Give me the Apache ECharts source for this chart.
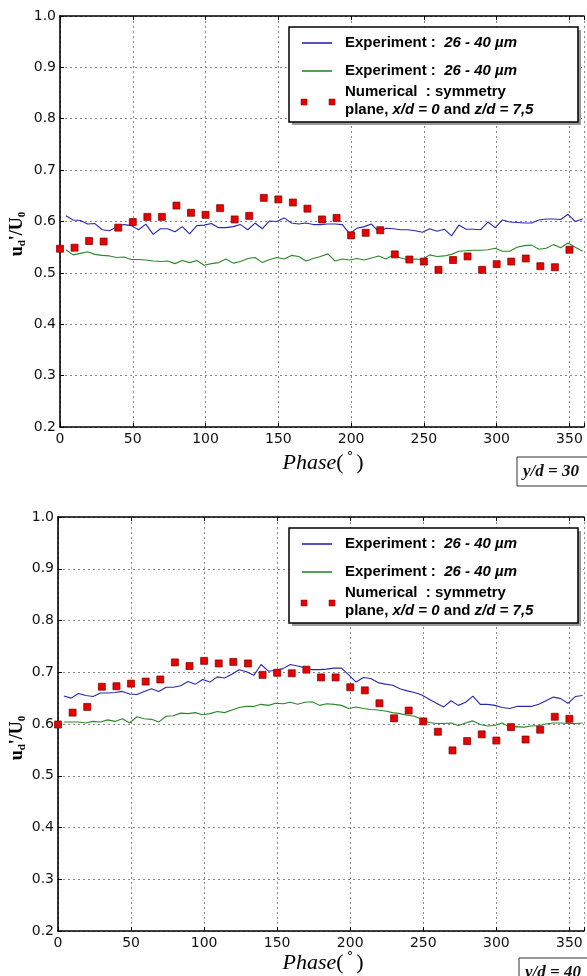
<!DOCTYPE html>
<html>
<head>
<meta charset="utf-8">
<script src="https://cdn.jsdelivr.net/npm/echarts@6/dist/echarts.min.js"></script>
<style>
    html, body { margin: 0; padding: 0; background: #fff; }
    #chart { width: 587px; height: 976px; }
</style>
</head>
<body>
<div id="chart"></div>
<script>
    // phase (deg) of the measured curves
    const expPhase = [4,9,14,19,24,29,34,39,44,49,54,59,64,69,74,79,84,89,94,99,104,109,114,119,124,129,134,139,144,149,
        154,159,164,169,174,179,184,189,194,199,204,209,214,219,224,229,234,239,244,249,254,259,264,269,274,279,284,289,294,299,
        304,309,314,319,324,329,334,339,344,349,354,359];
    // phase (deg) of the numerical points
    const numPhase = [0,10,20,30,40,50,60,70,80,90,100,110,120,130,140,150,160,170,180,190,200,210,220,230,240,250,260,270,280,290,300,310,320,330,340,350];

    // y/d = 30
    const blue30 = [0.611,0.603,0.602,0.595,0.596,0.584,0.582,0.590,0.594,0.592,
        0.584,0.595,0.575,0.586,0.586,0.580,0.590,0.576,0.592,0.593,
        0.596,0.588,0.588,0.590,0.594,0.584,0.597,0.586,0.601,0.600,
        0.607,0.597,0.595,0.597,0.594,0.594,0.595,0.595,0.594,0.576,
        0.587,0.590,0.595,0.580,0.587,0.586,0.584,0.584,0.582,0.579,
        0.586,0.581,0.585,0.572,0.593,0.585,0.585,0.584,0.599,0.588,
        0.603,0.599,0.598,0.597,0.597,0.603,0.605,0.605,0.604,0.614,
        0.600,0.605];
    const green30 = [0.545,0.535,0.538,0.541,0.536,0.534,0.533,0.530,0.531,0.526,
        0.526,0.525,0.523,0.522,0.523,0.518,0.524,0.520,0.524,0.515,
        0.518,0.520,0.527,0.519,0.522,0.528,0.530,0.520,0.526,0.530,
        0.527,0.534,0.532,0.523,0.528,0.532,0.537,0.523,0.527,0.525,
        0.528,0.525,0.529,0.533,0.527,0.535,0.529,0.526,0.527,0.526,
        0.535,0.532,0.533,0.536,0.542,0.543,0.544,0.544,0.545,0.548,
        0.542,0.542,0.550,0.553,0.554,0.546,0.548,0.555,0.549,0.558,
        0.550,0.542];
    const num30 = [0.547,0.549,0.562,0.561,0.588,0.599,0.609,0.609,0.631,0.617,
        0.613,0.626,0.604,0.611,0.646,0.643,0.637,0.625,0.604,0.607,
        0.573,0.578,0.583,0.536,0.526,0.522,0.506,0.525,0.532,0.506,
        0.517,0.522,0.528,0.513,0.511,0.545];

    // y/d = 40
    const blue40 = [0.654,0.650,0.659,0.655,0.653,0.660,0.660,0.661,0.663,0.658,
        0.657,0.663,0.668,0.663,0.671,0.671,0.674,0.682,0.677,0.686,
        0.681,0.691,0.689,0.696,0.705,0.701,0.694,0.715,0.702,0.704,
        0.707,0.715,0.712,0.709,0.705,0.705,0.706,0.708,0.708,0.695,
        0.681,0.690,0.688,0.680,0.677,0.675,0.668,0.664,0.661,0.656,
        0.648,0.640,0.633,0.645,0.636,0.642,0.654,0.638,0.638,0.636,
        0.632,0.630,0.634,0.634,0.634,0.638,0.645,0.652,0.649,0.640,
        0.653,0.655];
    const green40 = [0.604,0.604,0.604,0.602,0.605,0.604,0.608,0.605,0.610,0.602,
        0.614,0.610,0.609,0.604,0.615,0.616,0.621,0.620,0.622,0.618,
        0.620,0.624,0.622,0.627,0.632,0.634,0.634,0.638,0.636,0.640,
        0.639,0.642,0.638,0.642,0.643,0.636,0.639,0.638,0.636,0.630,
        0.633,0.630,0.628,0.627,0.625,0.622,0.620,0.617,0.615,0.609,
        0.603,0.601,0.601,0.602,0.597,0.602,0.606,0.599,0.596,0.597,
        0.602,0.594,0.595,0.594,0.596,0.597,0.600,0.602,0.602,0.601,
        0.601,0.602];
    const num40 = [0.599,0.622,0.633,0.672,0.673,0.678,0.682,0.686,0.719,0.712,
        0.722,0.717,0.720,0.717,0.695,0.699,0.698,0.705,0.690,0.690,
        0.671,0.665,0.640,0.611,0.626,0.605,0.585,0.549,0.567,0.580,
        0.568,0.594,0.570,0.589,0.614,0.610];

    const yTicks = ['0.2','0.3','0.4','0.5','0.6','0.7','0.8','0.9','1.0'];
    const panelLabels = ['y/d = 30', 'y/d = 40'];
    const legendText = ['Experiment :  ', '26 - 40 µm'];

    const BLUE = '#2828b0';
    const GREEN = '#2a882a';
    const tickFont = { fontFamily: 'DejaVu Sans', fontSize: 14, color: '#111' };

    function pair(xs, ys) {
        return xs.map((x, i) => [x, ys[i]]);
    }

    function xAxisCfg(grid, top) {
        return {
            type: 'value', gridIndex: grid, min: 0, max: 360, interval: 50,
            position: top ? 'top' : 'bottom',
            axisLine: { show: true, lineStyle: { color: '#000', width: 1.6 } },
            axisTick: { show: true, inside: true, length: 4, lineStyle: { color: '#000' } },
            axisLabel: top ? { show: false } : Object.assign({
                margin: 5,
                formatter: v => (v % 50 === 0 ? String(v) : '')
            }, tickFont),
            splitLine: { show: !top, lineStyle: { color: '#888', type: [2, 3], width: 1 } }
        };
    }

    function yAxisCfg(grid) {
        return {
            type: 'value', gridIndex: grid, min: 0.2, max: 1.0, interval: 0.1,
            axisLine: { show: true, lineStyle: { color: '#000', width: 1.6 } },
            axisTick: { show: true, inside: true, length: 4, lineStyle: { color: '#000' } },
            axisLabel: Object.assign({ margin: 4, formatter: v => v.toFixed(1) }, tickFont),
            splitLine: { show: true, lineStyle: { color: '#888', type: [2, 3], width: 1 } }
        };
    }

    function lineSeries(grid, ys, color) {
        return {
            type: 'line', xAxisIndex: grid * 2, yAxisIndex: grid,
            data: pair(expPhase, ys), showSymbol: false, symbol: 'none',
            lineStyle: { color: color, width: 1.1 }, z: 3, silent: true
        };
    }

    function scatterSeries(grid, ys) {
        return {
            type: 'scatter', xAxisIndex: grid * 2, yAxisIndex: grid,
            data: pair(numPhase, ys), symbol: 'rect', symbolSize: 7,
            itemStyle: { color: '#e60000', borderColor: '#7a0000', borderWidth: 0.7, opacity: 1 },
            z: 5, silent: true
        };
    }

    // legend box, drawn by hand so the 2-line entry matches
    function legendGroup(dy) {
        const L = 289, T = 27 + dy;
        const fs = 15;
        const rich = {
            b: { fontFamily: 'Liberation Sans', fontSize: fs, fontWeight: 'bold', color: '#111' },
            i: { fontFamily: 'Liberation Sans', fontSize: fs, fontWeight: 'bold', fontStyle: 'italic', color: '#111' }
        };
        return [
            { type: 'rect', shape: { x: L + 3, y: T + 3, width: 289, height: 95 }, style: { fill: '#9a9a9a' }, z: 10 },
            { type: 'rect', shape: { x: L, y: T, width: 289, height: 95 }, style: { fill: '#fff', stroke: '#000', lineWidth: 1.5 }, z: 11 },
            { type: 'line', shape: { x1: 302, y1: T + 16, x2: 332, y2: T + 16 }, style: { stroke: BLUE, lineWidth: 1.6 }, z: 12 },
            { type: 'line', shape: { x1: 302, y1: T + 44, x2: 332, y2: T + 44 }, style: { stroke: GREEN, lineWidth: 1.6 }, z: 12 },
            { type: 'rect', shape: { x: 301, y: T + 72, width: 6, height: 6 }, style: { fill: '#e60000', stroke: '#7a0000', lineWidth: 0.5 }, z: 12 },
            { type: 'rect', shape: { x: 329, y: T + 72, width: 6, height: 6 }, style: { fill: '#e60000', stroke: '#7a0000', lineWidth: 0.5 }, z: 12 },
            { type: 'text', x: 345, y: T + 16, z: 12, style: { text: '{b|' + legendText[0] + '}{i|' + legendText[1] + '}', rich: rich, verticalAlign: 'middle' } },
            { type: 'text', x: 345, y: T + 44, z: 12, style: { text: '{b|' + legendText[0] + '}{i|' + legendText[1] + '}', rich: rich, verticalAlign: 'middle' } },
            { type: 'text', x: 345, y: T + 65, z: 12, style: { text: '{b|Numerical  : symmetry}', rich: rich, verticalAlign: 'middle' } },
            { type: 'text', x: 345, y: T + 83, z: 12, style: { text: '{b|plane, }{i|x/d = 0}{b| and }{i|z/d = 7,5}', rich: rich, verticalAlign: 'middle' } }
        ];
    }

    function axisTitles(phaseY, ylabY, boxX, boxY, label) {
        return [
            {
                type: 'text', x: 17, y: ylabY, rotation: Math.PI / 2, z: 12,
                style: {
                    text: "{b|u}{s|d}{b|'/U}{s|0}", align: 'center', verticalAlign: 'middle',
                    rich: {
                        b: { fontFamily: 'Liberation Serif', fontSize: 18, fontWeight: 'bold', color: '#111', lineHeight: 22 },
                        s: { fontFamily: 'Liberation Serif', fontSize: 11, fontWeight: 'bold', color: '#111', lineHeight: 12, verticalAlign: 'bottom' }
                    }
                }
            },
            {
                type: 'text', x: 323, y: phaseY, z: 12,
                style: {
                    text: '{i|Phase}{n|(}{d|°}{n|)}', align: 'center', verticalAlign: 'middle',
                    rich: {
                        i: { fontFamily: 'Liberation Serif', fontSize: 22, fontStyle: 'italic', color: '#111', lineHeight: 26 },
                        n: { fontFamily: 'Liberation Serif', fontSize: 22, color: '#111', lineHeight: 26 },
                        d: { fontFamily: 'DejaVu Sans', fontSize: 13, color: '#111', lineHeight: 26, padding: [0, 3, 0, 3], verticalAlign: 'top' }
                    }
                }
            },
            { type: 'rect', shape: { x: boxX, y: boxY, width: 90, height: 29 }, style: { fill: '#fff', stroke: '#333', lineWidth: 1 }, z: 11 },
            {
                type: 'text', x: boxX + 6, y: boxY + 14.5, z: 12,
                style: { text: label, fontFamily: 'Liberation Serif', fontSize: 17, fontWeight: 'bold', fontStyle: 'italic', fill: '#111', verticalAlign: 'middle' }
            }
        ];
    }

    const chart = echarts.init(document.getElementById('chart'), null, { renderer: 'canvas' });
    chart.setOption({
        backgroundColor: '#fff',
        animation: false,
        grid: [
            { left: 60, top: 16, width: 528, height: 411 },
            { left: 58, top: 517, width: 531, height: 414 }
        ],
        xAxis: [xAxisCfg(0, false), xAxisCfg(0, true), xAxisCfg(1, false), xAxisCfg(1, true)],
        yAxis: [yAxisCfg(0), yAxisCfg(1)],
        series: [
            lineSeries(0, blue30, BLUE),
            lineSeries(0, green30, GREEN),
            scatterSeries(0, num30),
            lineSeries(1, blue40, BLUE),
            lineSeries(1, green40, GREEN),
            scatterSeries(1, num40)
        ],
        graphic: [].concat(
            legendGroup(0),
            legendGroup(501),
            axisTitles(463, 234, 517, 457, panelLabels[0]),
            axisTitles(963, 738, 519, 958, panelLabels[1])
        )
    });
</script>
</body>
</html>
